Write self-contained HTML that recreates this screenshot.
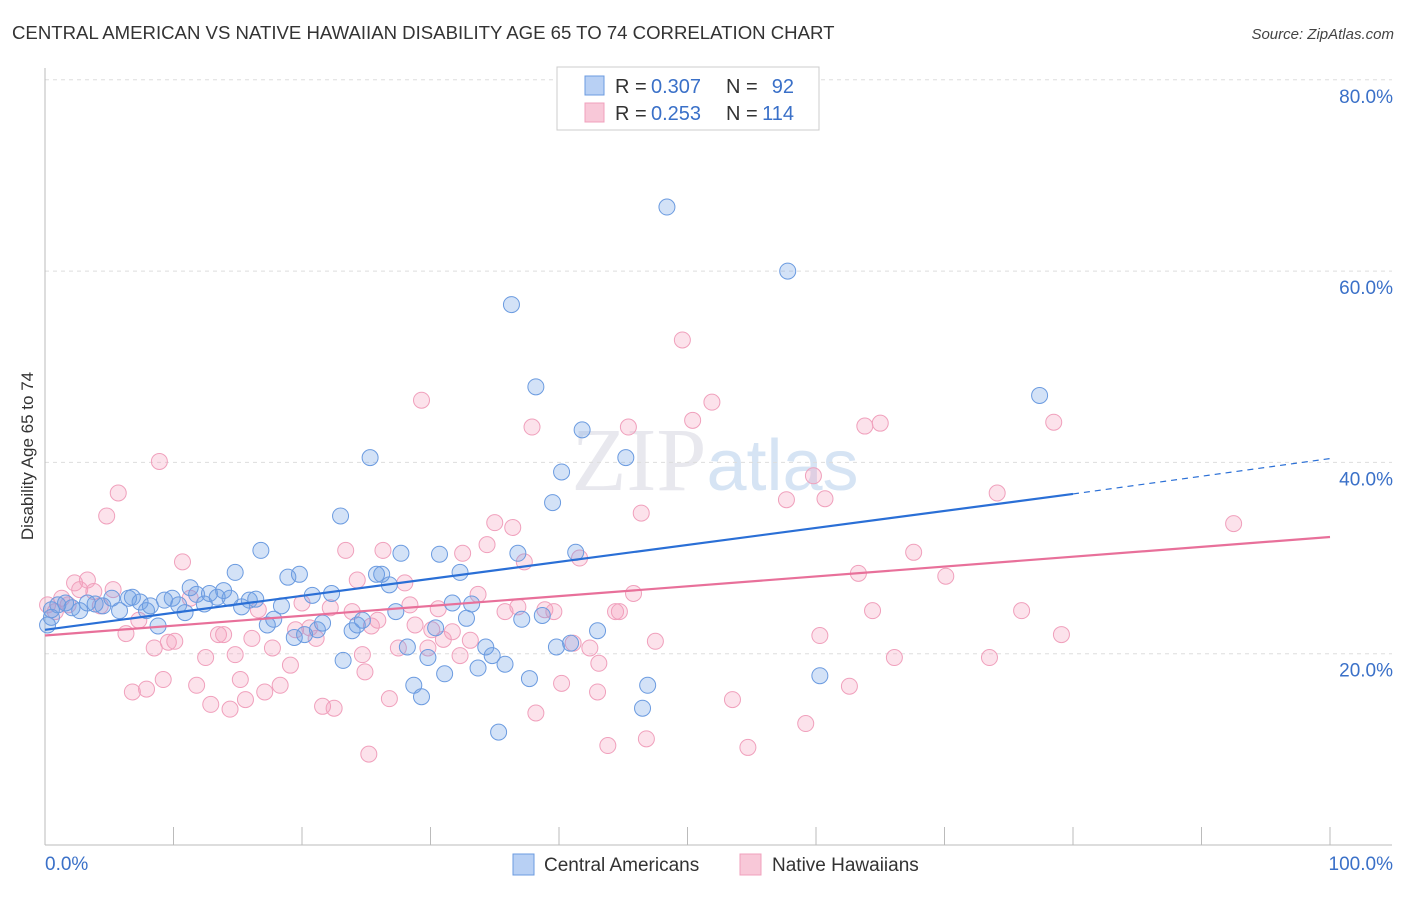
<!DOCTYPE html>
<html><head><meta charset="utf-8"><style>
body{margin:0;background:#fff;font-family:"Liberation Sans",sans-serif;}
</style></head><body>
<svg id="chart" width="1406" height="892" xmlns="http://www.w3.org/2000/svg" font-family="Liberation Sans, sans-serif">
<text x="12" y="39" font-size="18.6" fill="#333">CENTRAL AMERICAN VS NATIVE HAWAIIAN DISABILITY AGE 65 TO 74 CORRELATION CHART</text>
<text x="1394" y="39" font-size="15" fill="#444" text-anchor="end" font-style="italic">Source: ZipAtlas.com</text>
<text x="715" y="490" font-size="90" fill="#e8e8ee" text-anchor="middle" font-family="Liberation Serif, serif">ZIP<tspan fill="#d6e4f4" font-family="Liberation Sans, sans-serif" font-size="72">atlas</tspan></text>
<text transform="translate(33,456) rotate(-90)" font-size="17" fill="#333" text-anchor="middle">Disability Age 65 to 74</text>
<g id="grid"></g><g id="axes"></g><g id="marks"></g>
<g font-size="20">
<rect x="557" y="67" width="262" height="63" fill="#fff" stroke="#ccc"/>
<rect x="585" y="76" width="19" height="19" fill="#b8d0f4" stroke="#6b9be0"/>
<text x="615" y="93" fill="#333">R =</text>
<text x="651" y="93" fill="#3a70c8">0.307</text>
<text x="726" y="93" fill="#333">N =</text>
<text x="794" y="93" fill="#3a70c8" text-anchor="end">92</text>
<rect x="585" y="103" width="19" height="19" fill="#f8c8d8" stroke="#f0a0bc"/>
<text x="615" y="120" fill="#333">R =</text>
<text x="651" y="120" fill="#3a70c8">0.253</text>
<text x="726" y="120" fill="#333">N =</text>
<text x="794" y="120" fill="#3a70c8" text-anchor="end">114</text>
</g>
<g>
<rect x="513" y="854" width="21" height="21" fill="#b8d0f4" stroke="#6b9be0"/>
<text x="544" y="871" font-size="19" fill="#333">Central Americans</text>
<rect x="740" y="854" width="21" height="21" fill="#f8c8d8" stroke="#f0a0bc"/>
<text x="772" y="871" font-size="19" fill="#333">Native Hawaiians</text>
</g>
</svg>
<script>
const yTicks=[20,40,60,80];
const yTickLabels=["20.0%","40.0%","60.0%","80.0%"];
const blueX=[0.5,1.0,1.6,2.1,2.7,3.3,3.9,4.5,5.2,5.8,6.5,6.8,7.4,7.9,8.2,8.8,9.3,9.9,10.4,10.9,11.3,11.8,12.4,12.8,13.4,13.9,14.4,14.8,15.3,15.9,16.4,16.8,17.3,17.8,18.4,18.9,19.4,19.8,20.2,20.8,21.2,21.6,22.3,23.0,23.2,23.9,24.3,24.7,25.3,25.8,26.2,26.8,27.3,27.7,28.2,28.7,29.3,29.8,30.4,30.7,31.1,31.7,32.3,32.8,33.2,33.7,34.3,34.8,35.3,35.8,36.3,36.8,37.1,37.7,38.2,38.7,39.5,39.8,40.2,40.9,41.3,41.8,43.0,45.2,46.5,46.9,48.4,57.8,60.3,77.4,0.2,0.5];
const blueY=[23.8,25.1,25.3,24.8,24.5,25.3,25.2,25.0,25.8,24.5,25.8,25.9,25.4,24.5,25.0,22.9,25.6,25.8,25.1,24.3,26.9,26.2,25.2,26.3,25.9,26.6,25.8,28.5,24.9,25.6,25.7,30.8,23.0,23.6,25.0,28.0,21.7,28.3,22.0,26.1,22.5,23.2,26.3,34.4,19.3,22.4,23.0,23.5,40.5,28.3,28.3,27.2,24.4,30.5,20.7,16.7,15.5,19.6,22.7,30.4,17.9,25.3,28.5,23.7,25.2,18.5,20.7,19.8,11.8,18.9,56.5,30.5,23.6,17.4,47.9,24.0,35.8,20.7,39.0,21.1,30.6,43.4,22.4,40.5,14.3,16.7,66.7,60.0,17.7,47.0,23.0,24.6];
const pinkX=[0.2,0.8,1.3,1.8,2.3,2.7,3.3,3.8,4.3,4.8,5.3,5.7,6.3,6.8,7.3,7.9,8.5,8.9,9.2,9.6,10.1,10.7,11.3,11.8,12.5,12.9,13.5,13.9,14.4,14.8,15.2,15.6,16.1,16.6,17.1,17.7,18.3,19.1,19.5,20.0,20.6,21.1,21.6,22.2,22.5,23.4,23.9,24.3,24.7,24.9,25.4,25.9,26.3,26.8,27.5,28.0,28.4,28.8,29.3,29.8,30.1,30.6,31.0,31.7,32.3,32.5,33.1,33.7,34.4,35.0,35.8,36.4,36.8,37.3,37.9,38.2,38.9,39.6,40.2,41.1,41.6,42.4,43.0,43.1,43.8,44.4,44.7,45.4,45.8,46.4,46.8,47.5,49.6,50.4,51.9,53.5,54.7,57.7,59.2,59.8,60.3,60.7,62.6,63.3,63.8,64.4,65.0,66.1,67.6,70.1,73.5,74.1,76.0,78.5,79.1,92.5,25.2];
const pinkY=[25.1,24.4,25.8,25.1,27.4,26.7,27.7,26.5,25.0,34.4,26.7,36.8,22.1,16.0,23.5,16.3,20.6,40.1,17.3,21.2,21.3,29.6,25.8,16.7,19.6,14.7,22.0,22.0,14.2,19.9,17.3,15.2,21.6,24.6,16.0,20.6,16.7,18.8,22.5,25.3,22.7,21.6,14.5,24.8,14.3,30.8,24.4,27.7,19.9,18.1,22.9,23.5,30.8,15.3,20.6,27.4,25.1,23.0,46.5,20.6,22.5,24.7,21.5,22.3,19.8,30.5,21.4,26.2,31.4,33.7,24.4,33.2,24.9,29.6,43.7,13.8,24.6,24.4,16.9,21.1,30.0,20.6,16.0,19.0,10.4,24.4,24.4,43.7,26.3,34.7,11.1,21.3,52.8,44.4,46.3,15.2,10.2,36.1,12.7,38.6,21.9,36.2,16.6,28.4,43.8,24.5,44.1,19.6,30.6,28.1,19.6,36.8,24.5,44.2,22.0,33.6,9.5];
const blueTrend=[22.5,36.7,40.4]; // y at x=0, 80, 100
const pinkTrend=[21.9,32.2]; // y at x=0, 100
const X0=45,X1=1330,Y0=845,YS=9.565;
const sx=v=>X0+(X1-X0)*v/100, sy=v=>Y0-v*YS;
const NS="http://www.w3.org/2000/svg";
function mk(tag,attrs,parent){const e=document.createElementNS(NS,tag);for(const k in attrs)e.setAttribute(k,attrs[k]);document.getElementById(parent).appendChild(e);return e;}
yTicks.forEach((t,i)=>{
 const g=mk('line',{x1:X0,x2:1392,y1:sy(t),y2:sy(t),stroke:'#ddd','stroke-dasharray':'4,4'},'grid');
 
 
 const l=mk('text',{x:1393,y:sy(t)+23,'font-size':19,fill:'#3a70c8','text-anchor':'end'},'grid');
 l.textContent=yTickLabels[i];
 
 
});
const ax=mk('line',{x1:X0,x2:X0,y1:68,y2:Y0,stroke:'#bbb'},'axes');


const bx=mk('line',{x1:X0,x2:1392,y1:Y0,y2:Y0,stroke:'#bbb'},'axes');


for(let i=0;i<=10;i++){const t=mk('line',{x1:sx(i*10),x2:sx(i*10),y1:Y0,y2:Y0-18,stroke:'#bbb'},'axes');
 
 }
const xl0=mk('text',{x:45,y:870,'font-size':19,fill:'#3a70c8'},'axes');xl0.textContent='0.0%';


const xl1=mk('text',{x:1393,y:870,'font-size':19,fill:'#3a70c8','text-anchor':'end'},'axes');xl1.textContent='100.0%';


pinkX.forEach((v,i)=>{const c=mk('circle',{cx:sx(v),cy:sy(pinkY[i]),r:8,fill:'rgba(244,160,190,0.3)',stroke:'#f0a0bc','stroke-width':1},'marks');
 
 });
blueX.forEach((v,i)=>{const c=mk('circle',{cx:sx(v),cy:sy(blueY[i]),r:8,fill:'rgba(110,160,230,0.3)',stroke:'#6b9be0','stroke-width':1},'marks');
 
 });
const pl=mk('line',{x1:sx(0),y1:sy(pinkTrend[0]),x2:sx(100),y2:sy(pinkTrend[1]),stroke:'#e8709a','stroke-width':2.2},'marks');


const bl=mk('line',{x1:sx(0),y1:sy(blueTrend[0]),x2:sx(80),y2:sy(blueTrend[1]),stroke:'#2a6fd6','stroke-width':2.2},'marks');


const bd=mk('line',{x1:sx(80),y1:sy(blueTrend[1]),x2:sx(100),y2:sy(blueTrend[2]),stroke:'#2a6fd6','stroke-width':1.2,'stroke-dasharray':'6,5'},'marks');


</script>
</body></html>
